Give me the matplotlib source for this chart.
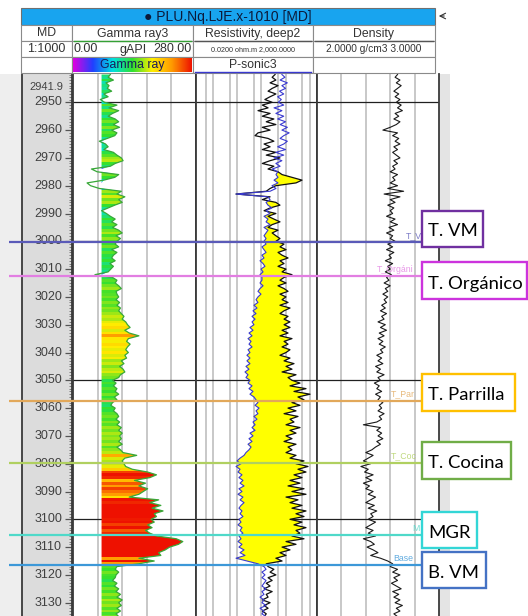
import numpy as np
import matplotlib
matplotlib.use("Agg")
import matplotlib.pyplot as plt
from matplotlib.colors import LinearSegmentedColormap, Normalize
from matplotlib.patches import Rectangle
from matplotlib.transforms import blended_transform_factory

plt.rcParams['font.family'] = ['Liberation Sans', 'DejaVu Sans']

# ---------------- data (1 m samples from 2940 m MD) ----------------
depth_start = 2940
depth_step = 1

gamma_ray = [  # gAPI
    85, 80, 92, 75, 82, 78, 88, 70, 80, 62,
    72, 100, 82, 104, 90, 80, 96, 104, 92, 106,
    88, 100, 95, 78, 60, 74, 80, 70, 92, 100,
    110, 114, 96, 85, 42, 55, 104, 95, 70, 32,
    40, 60, 110, 100, 118, 104, 112, 95, 80, 65,
    76, 85, 96, 88, 100, 90, 104, 112, 98, 108,
    100, 96, 104, 88, 100, 92, 88, 96, 84, 92,
    86, 80, 50, 90, 100, 96, 104, 110, 98, 100,
    104, 98, 106, 100, 108, 104, 110, 116, 112, 120,
    124, 130, 118, 128, 150, 126, 122, 130, 124, 120,
    126, 118, 122, 110, 116, 106, 114, 118, 108, 104,
    90, 98, 92, 100, 96, 104, 94, 100, 90, 86,
    96, 92, 100, 104, 98, 106, 100, 110, 104, 112,
    106, 110, 104, 112, 100, 108, 114, 145, 118, 112,
    116, 120, 135, 170, 190, 175, 140, 165, 150, 170,
    160, 150, 128, 195, 175, 200, 180, 205, 185, 190,
    178, 185, 170, 180, 165, 175, 190, 235, 250, 240,
    220, 210, 195, 200, 150, 185, 150, 100, 96, 104,
    98, 96, 90, 100, 94, 104, 98, 108, 100, 112,
    104, 110, 100, 108, 98, 104,
]

resistivity = [  # ohm.m (deep2)
    37, 28, 40, 23, 49, 28, 19, 40, 23, 14,
    28, 11, 19, 7.3, 23, 11, 33, 16, 40, 11,
    23, 7.3, 5.5, 19, 33, 13, 23, 11, 40, 16,
    59, 23, 11, 33, 19, 49, 72, 185, 480, 271,
    40, 23, 16, 0.9, 23, 11, 40, 59, 23, 13,
    40, 19, 33, 59, 28, 19, 49, 28, 40, 59,
    40, 87, 59, 105, 49, 72, 127, 59, 87, 49,
    105, 72, 185, 87, 59, 105, 49, 87, 127, 59,
    105, 72, 127, 59, 153, 87, 59, 127, 87, 153,
    87, 153, 72, 127, 59, 185, 87, 127, 72, 153,
    105, 59, 153, 87, 224, 105, 185, 72, 271, 127,
    185, 397, 153, 702, 224, 1030, 328, 580, 185, 397,
    127, 271, 87, 328, 153, 224, 105, 397, 153, 271,
    105, 185, 87, 271, 127, 185, 105, 271, 153, 580,
    271, 849, 328, 702, 224, 480, 153, 397, 127, 580,
    185, 702, 105, 328, 153, 480, 185, 702, 271, 580,
    153, 480, 224, 702, 271, 397, 185, 580, 105, 271,
    72, 153, 59, 105, 40, 72, 16, 19, 33, 23,
    40, 19, 28, 16, 23, 13, 28, 16, 19, 11,
    23, 13, 19, 11, 16, 13,
]

p_sonic = [  # us/ft (P-sonic3)
    69.0, 66.5, 70.5, 64.5, 69.0, 66.0, 71.0, 67.5, 72.5, 69.5,
    72.0, 67.5, 75.5, 69.0, 74.0, 67.5, 72.5, 66.0, 70.5, 64.5,
    69.0, 63.0, 67.5, 70.5, 64.5, 67.5, 72.5, 66.0, 74.0, 67.5,
    75.5, 69.0, 74.0, 70.5, 77.0, 72.5, 73.9, 72.2, 75.5, 72.2,
    77.2, 73.9, 78.8, 106.9, 80.5, 78.8, 82.1, 80.5, 77.2, 82.1,
    78.8, 83.8, 80.5, 82.1, 78.8, 83.8, 80.5, 82.1, 83.8, 82.1,
    83.8, 82.1, 85.5, 83.8, 82.1, 85.5, 83.8, 87.1, 84.6, 83.0,
    86.3, 84.6, 87.1, 85.5, 85.5, 87.1, 84.6, 87.1, 88.8, 86.3,
    88.8, 90.4, 88.8, 92.1, 89.6, 92.9, 90.4, 93.7, 91.2, 93.7,
    92.1, 95.4, 92.9, 96.2, 93.7, 97.0, 94.5, 96.2, 93.7, 97.0,
    95.4, 97.9, 95.4, 97.9, 95.4, 98.7, 96.2, 99.5, 97.0, 98.7,
    95.4, 97.0, 93.7, 96.2, 92.9, 95.4, 92.1, 90.4, 88.8, 91.2,
    87.9, 90.4, 88.8, 92.1, 89.6, 92.9, 91.2, 93.7, 91.2, 95.4,
    92.9, 96.2, 93.7, 97.0, 94.5, 96.2, 98.7, 100.3, 103.6, 106.1,
    102.8, 106.9, 103.6, 105.3, 102.0, 104.5, 101.2, 103.6, 100.3, 104.5,
    102.0, 105.3, 101.2, 103.6, 100.3, 102.8, 104.5, 102.0, 103.6, 101.2,
    104.5, 102.8, 105.3, 102.0, 103.6, 101.2, 104.5, 102.8, 105.3, 102.0,
    104.5, 100.3, 103.6, 99.5, 106.9, 97.9, 88.8, 83.8, 82.1, 85.5,
    83.0, 85.5, 82.1, 83.8, 85.5, 82.1, 85.5, 83.8, 87.1, 83.8,
    85.5, 82.1, 87.1, 83.8, 85.5, 82.1,
]

density = [  # g/cm3
    2.66, 2.64, 2.68, 2.65, 2.69, 2.66, 2.63, 2.67, 2.64, 2.68,
    2.65, 2.69, 2.66, 2.70, 2.64, 2.67, 2.63, 2.68, 2.65, 2.60,
    2.54, 2.66, 2.62, 2.67, 2.64, 2.68, 2.63, 2.66, 2.62, 2.65,
    2.68, 2.63, 2.66, 2.62, 2.64, 2.60, 2.66, 2.62, 2.64, 2.60,
    2.66, 2.58, 2.71, 2.55, 2.68, 2.60, 2.64, 2.58, 2.63, 2.60,
    2.62, 2.57, 2.64, 2.60, 2.66, 2.59, 2.63, 2.57, 2.62, 2.60,
    2.64, 2.58, 2.62, 2.57, 2.63, 2.59, 2.61, 2.56, 2.62, 2.58,
    2.60, 2.56, 2.61, 2.57, 2.59, 2.55, 2.60, 2.56, 2.58, 2.54,
    2.58, 2.55, 2.57, 2.53, 2.56, 2.52, 2.57, 2.53, 2.55, 2.50,
    2.56, 2.52, 2.57, 2.51, 2.55, 2.50, 2.54, 2.51, 2.56, 2.52,
    2.54, 2.49, 2.53, 2.50, 2.54, 2.48, 2.52, 2.49, 2.55, 2.50,
    2.52, 2.47, 2.51, 2.49, 2.53, 2.48, 2.52, 2.50, 2.54, 2.51,
    2.53, 2.50, 2.55, 2.51, 2.53, 2.49, 2.38, 2.52, 2.49, 2.53,
    2.50, 2.54, 2.49, 2.52, 2.48, 2.45, 2.40, 2.46, 2.42, 2.38,
    2.44, 2.36, 2.42, 2.39, 2.46, 2.40, 2.45, 2.38, 2.43, 2.40,
    2.46, 2.42, 2.48, 2.44, 2.40, 2.47, 2.42, 2.49, 2.44, 2.46,
    2.42, 2.48, 2.44, 2.40, 2.46, 2.42, 2.48, 2.38, 2.44, 2.47,
    2.41, 2.46, 2.50, 2.44, 2.52, 2.58, 2.62, 2.60, 2.66, 2.62,
    2.68, 2.63, 2.66, 2.61, 2.65, 2.69, 2.62, 2.67, 2.63, 2.68,
    2.64, 2.70, 2.65, 2.68, 2.63, 2.66,
]

formation_names = ["T. VM", "T. Orgánico", "T. Parrilla", "T. Cocina", "MGR", "B. VM"]
formation_tags = ["T_V", "T_Orgáni", "T_Par", "T_Coc", "M", "Base"]  # visible parts of the well-top tags
formation_depths = [3000.3, 3012.6, 3057.3, 3079.6, 3105.8, 3116.5]

depth_ticks = [2950, 2960, 2970, 2980, 2990, 3000, 3010, 3020, 3030, 3040,
               3050, 3060, 3070, 3080, 3090, 3100, 3110, 3120, 3130]
depth_grid = [2950, 3000, 3050, 3100]
top_depth_label = "2941.9"

# ---------------- styling / layout ----------------
W, H, DPI = 528, 616, 100
TOP, BOT = 74, 616
PX_PER_M = 2.78
D_TOP = 2950 - (102.3 - TOP) / PX_PER_M
D_BOT = 2950 + (BOT - 102.3) / PX_PER_M

GR_MIN, GR_MAX, GR_BASE = 0, 280, 65
RES_MIN, RES_MAX = 0.02, 2000
SON_LEFT, SON_RIGHT = 140, 40
DEN_MIN, DEN_MAX = 2.0, 3.0

line_colors = ['#5a5ab8', '#e27ee2', '#e2a85a', '#b0d060', '#4fd9c9', '#3c98d8']
box_colors = ['#7030a0', '#cc33dd', '#ffc000', '#70ad47', '#33d6d6', '#4472c4']
box_rects = [(422, 211, 483, 247), (422, 262, 527, 299), (422, 374, 515, 411),
             (422, 442, 511, 479), (422, 512, 477, 548), (422, 552, 486, 588)]
tag_x = [406, 377, 391, 391, 412, 393]

cmap = LinearSegmentedColormap.from_list(
    'gr', ['#e000e0', '#2040ff', '#00e0e0', '#30e030', '#ffee00', '#ff9900', '#ee1100'])
norm = Normalize(10, 180, clip=True)

fig = plt.figure(figsize=(W / DPI, H / DPI), dpi=DPI)
fig.patch.set_facecolor('white')


def px_axes(x0, y0, x1, y1, **kw):
    return fig.add_axes([x0 / W, 1 - y1 / H, (x1 - x0) / W, (y1 - y0) / H], **kw)


def pixel_overlay(zorder):
    ax = px_axes(0, 0, W, H, zorder=zorder)
    ax.set_xlim(0, W)
    ax.set_ylim(H, 0)
    ax.axis('off')
    return ax


def track(x0, x1, face='white'):
    ax = px_axes(x0, TOP, x1, BOT)
    ax.set_facecolor(face)
    ax.set_ylim(D_BOT, D_TOP)
    ax.tick_params(which='both', left=False, bottom=False, labelleft=False, labelbottom=False)
    for s in ['top', 'bottom']:
        ax.spines[s].set_visible(False)
    for s in ['left', 'right']:
        ax.spines[s].set_color('#3a3a3a')
        ax.spines[s].set_linewidth(1.3)
    return ax


depth = depth_start + depth_step * np.arange(len(gamma_ray))
gr = np.array(gamma_ray, float)
res = np.array(resistivity, float)
son = np.array(p_sonic, float)
den = np.array(density, float)

# background
ax_bg = pixel_overlay(-5)
ax_bg.add_patch(Rectangle((0, TOP), 22, BOT - TOP, fc='#eeeeee', ec='none'))
ax_bg.add_patch(Rectangle((439, TOP), 11, BOT - TOP, fc='#e4e4e4', ec='none'))

# MD track
ax_md = track(22, 72, face='#dcdcdc')
ax_md.set_xlim(0, 1)
ax_md.set_yticks(depth_ticks)
ax_md.yaxis.set_minor_locator(matplotlib.ticker.MultipleLocator(1))
ax_md.tick_params(which='both', right=True, direction='in', color='#555555', labelright=False)
ax_md.tick_params(which='major', length=5, width=0.9)
ax_md.tick_params(which='minor', length=2.5, width=0.5)
ax_md.set_ylim(D_BOT, D_TOP)
btr = blended_transform_factory(ax_md.transAxes, ax_md.transData)
for t in depth_ticks:
    ax_md.text(0.8, t, f"{t}", transform=btr, ha='right', va='center',
               fontsize=9, color='#404040')

# Gamma ray track
ax_gr = track(73, 196)
for g in [56, 112, 168, 224]:
    ax_gr.axvline(g, color='#c4c4c4', lw=1.3, zorder=1)
for d in depth_grid:
    ax_gr.axhline(d, color='#202020', lw=0.9, zorder=1)
poly = ax_gr.fill_betweenx(depth, GR_BASE, np.maximum(gr, GR_BASE), facecolor='none', edgecolor='none')
im = ax_gr.imshow(gr.reshape(-1, 1), cmap=cmap, norm=norm, aspect='auto', interpolation='nearest',
                  extent=[GR_MIN, GR_MAX, depth[-1] + 0.5, depth[0] - 0.5], zorder=2)
im.set_clip_path(poly.get_paths()[0], ax_gr.transData)
ax_gr.plot(gr, depth, color='#38a838', lw=0.9, zorder=3)
ax_gr.set_xlim(GR_MIN, GR_MAX)
ax_gr.set_ylim(D_BOT, D_TOP)

# Resistivity / sonic track
ax_res = track(196, 317)
ax_res.set_xscale('log')
ax_res.set_xlim(RES_MIN, RES_MAX)
ax_res.tick_params(which='both', left=False, bottom=False, labelleft=False, labelbottom=False)
for g in [0.05, 0.1, 0.5, 1, 5, 10, 50, 100, 500, 1000]:
    ax_res.axvline(g, color='#c4c4c4', lw=1.3, zorder=1)
for d in depth_grid:
    ax_res.axhline(d, color='#202020', lw=0.9, zorder=1)
ax_son = ax_res.twiny()
ax_son.set_xlim(SON_LEFT, SON_RIGHT)
ax_son.set_ylim(D_BOT, D_TOP)
ax_son.tick_params(which='both', top=False, labeltop=False, left=False, labelleft=False,
                   bottom=False, labelbottom=False)
for s in ax_son.spines.values():
    s.set_visible(False)
pts = ax_son.transData.transform(np.column_stack([son, depth]))
son_in_res = ax_res.transData.inverted().transform(pts)[:, 0]
ax_res.fill_betweenx(depth, son_in_res, res,
                     where=(res > son_in_res) & (depth <= formation_depths[-1]),
                     interpolate=True, color='#ffff00', lw=0, zorder=2)
ax_res.plot(res, depth, color='#111111', lw=0.9, zorder=4)
ax_son.plot(son, depth, color='#3a3ad0', lw=0.8, zorder=3)

# Density track
ax_den = track(317, 439)
ax_den.set_xlim(DEN_MIN, DEN_MAX)
for g in [2.2, 2.4, 2.6, 2.8]:
    ax_den.axvline(g, color='#c4c4c4', lw=1.3, zorder=1)
for d in depth_grid:
    ax_den.axhline(d, color='#202020', lw=0.9, zorder=1)
ax_den.plot(den, depth, color='#1a1a1a', lw=0.8, zorder=3)

# formation tops across the panel
ax_full = px_axes(0, TOP, W, BOT, zorder=5)
ax_full.set_xlim(0, W)
ax_full.set_ylim(D_BOT, D_TOP)
ax_full.axis('off')
ax_full.hlines(formation_depths, 9, 422, colors=line_colors, lw=1.6)
for name, d, c, x in zip(formation_tags, formation_depths, line_colors, tag_x):
    ax_full.text(x, d - 0.7, name, color=c, fontsize=6.3, alpha=0.8, va='bottom', ha='left')

# header + boxes
ax_ov = pixel_overlay(10)
cols = [21, 72, 193, 313, 435]
ax_ov.add_patch(Rectangle((21, 8), 414, 17, fc='#18a4ef', ec='#707070', lw=0.8))
ax_ov.text(228, 16.5, "● PLU.Nq.LJE.x-1010 [MD]", ha='center', va='center', fontsize=10, color='#0c1a3a')
for (ya, yb) in [(25, 41), (41, 57), (57, 73)]:
    for xa, xb in zip(cols[:-1], cols[1:]):
        ax_ov.add_patch(Rectangle((xa, ya), xb - xa, yb - ya, fc='white', ec='#8a8a8a', lw=0.8))
row2 = ["MD", "Gamma ray3", "Resistivity, deep2", "Density"]
for xa, xb, t in zip(cols[:-1], cols[1:], row2):
    ax_ov.text((xa + xb) / 2, 33.5, t, ha='center', va='center', fontsize=8.8, color='#333333')
ax_ov.plot([74, 191], [40.5, 40.5], color='#35a035', lw=1)
ax_ov.plot([195, 311], [40.5, 40.5], color='#555555', lw=1)
ax_ov.plot([315, 433], [40.5, 40.5], color='#555555', lw=1)
ax_ov.text(46.5, 49.5, "1:1000", ha='center', va='center', fontsize=9, color='#333333')
ax_ov.text(74, 49.5, "0.00", ha='left', va='center', fontsize=9, color='#333333')
ax_ov.text(133, 49.5, "gAPI", ha='center', va='center', fontsize=9, color='#333333')
ax_ov.text(192, 49.5, "280.00", ha='right', va='center', fontsize=9, color='#333333')
ax_ov.text(253, 49.5, "0.0200 ohm.m 2,000.0000", ha='center', va='center', fontsize=5.2, color='#333333')
ax_ov.text(374, 49.5, "2.0000 g/cm3 3.0000", ha='center', va='center', fontsize=7.3, color='#333333')
ax_ov.imshow(np.linspace(0, 1, 256)[None, :], cmap=cmap, aspect='auto',
             extent=[73, 192, 72, 58], zorder=3)
ax_ov.text(132, 65, "Gamma ray", ha='center', va='center', fontsize=8.8, color='#1a1a5a', zorder=4)
ax_ov.text(253, 65, "P-sonic3", ha='center', va='center', fontsize=8.8, color='#333333')
ax_ov.plot([195, 311], [72, 72], color='#3a3ad0', lw=1)
ax_ov.annotate('', xy=(436, 16), xytext=(447, 16),
               arrowprops=dict(arrowstyle='->', color='#333333', lw=0.8))
ax_ov.text(63, 87, top_depth_label, ha='right', va='center', fontsize=8, color='#444444')

for name, (x0, y0, x1, y1), c in zip(formation_names, box_rects, box_colors):
    ax_ov.add_patch(Rectangle((x0, y0), x1 - x0, y1 - y0, fc='white', ec=c, lw=1.7, zorder=5))
    ax_ov.text(x0 + 6, y1 - 10.5, name, ha='left', va='baseline', fontsize=13.3,
               family=['Lato', 'DejaVu Sans'], color='black', zorder=6)
ax_ov.set_xlim(0, W)
ax_ov.set_ylim(H, 0)

fig.savefig('out.png', dpi=DPI)
